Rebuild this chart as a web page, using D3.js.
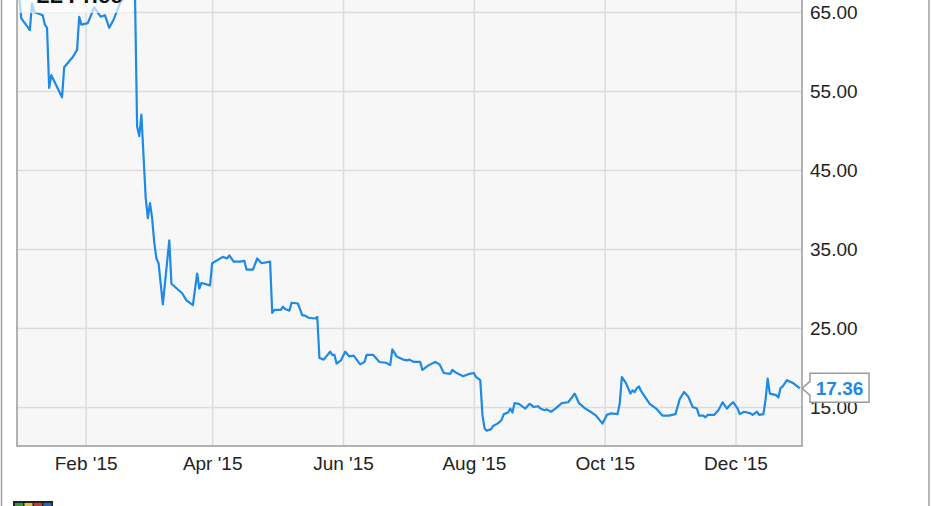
<!DOCTYPE html>
<html>
<head>
<meta charset="utf-8">
<script src="https://cdnjs.cloudflare.com/ajax/libs/d3/7.8.5/d3.min.js"></script>
<style>
 body { margin: 0; background: #fff; }
 svg  { display: block; font-family: "Liberation Sans", Arial, sans-serif; }
</style>
</head>
<body>
<script>

// LL daily close, 2015
var dates = [
 '2015-01-01','2015-01-02','2015-01-06','2015-01-07','2015-01-08','2015-01-12','2015-01-13','2015-01-14',
 '2015-01-15','2015-01-16','2015-01-21','2015-01-22','2015-01-26','2015-01-28','2015-01-29','2015-01-30',
 '2015-02-02','2015-02-05','2015-02-08','2015-02-10','2015-02-12','2015-02-14','2015-02-17','2015-02-19',
 '2015-02-22','2015-02-24','2015-02-25','2015-02-26','2015-02-27','2015-03-01','2015-03-02','2015-03-03',
 '2015-03-04','2015-03-05','2015-03-06','2015-03-07','2015-03-09','2015-03-12','2015-03-13','2015-03-18',
 '2015-03-20','2015-03-23','2015-03-25','2015-03-26','2015-03-27','2015-03-31','2015-04-01','2015-04-06',
 '2015-04-08','2015-04-09','2015-04-11','2015-04-14','2015-04-16','2015-04-17','2015-04-20','2015-04-22',
 '2015-04-24','2015-04-28','2015-04-29','2015-04-30','2015-05-03','2015-05-04','2015-05-05','2015-05-07',
 '2015-05-08','2015-05-11','2015-05-13','2015-05-14','2015-05-16','2015-05-19','2015-05-20','2015-05-21',
 '2015-05-23','2015-05-26','2015-05-27','2015-05-28','2015-05-29','2015-05-31','2015-06-02','2015-06-04',
 '2015-06-06','2015-06-09','2015-06-11','2015-06-12','2015-06-15','2015-06-18','2015-06-21','2015-06-23',
 '2015-06-24','2015-06-26','2015-06-29','2015-07-01','2015-07-02','2015-07-04','2015-07-07','2015-07-08',
 '2015-07-11','2015-07-14','2015-07-16','2015-07-18','2015-07-21','2015-07-22','2015-07-24','2015-07-27',
 '2015-07-30','2015-08-01','2015-08-02','2015-08-04','2015-08-05','2015-08-06','2015-08-07','2015-08-09',
 '2015-08-10','2015-08-12','2015-08-13','2015-08-14','2015-08-15','2015-08-17','2015-08-18','2015-08-19',
 '2015-08-20','2015-08-22','2015-08-25','2015-08-27','2015-08-29','2015-08-31','2015-09-01','2015-09-03',
 '2015-09-04','2015-09-06','2015-09-08','2015-09-11','2015-09-14','2015-09-16','2015-09-17','2015-09-19',
 '2015-09-22','2015-09-25','2015-09-27','2015-09-30','2015-10-02','2015-10-04','2015-10-07','2015-10-08',
 '2015-10-09','2015-10-11','2015-10-13','2015-10-14','2015-10-15','2015-10-16','2015-10-17','2015-10-18',
 '2015-10-22','2015-10-25','2015-10-28','2015-10-31','2015-11-03','2015-11-05','2015-11-07','2015-11-09',
 '2015-11-11','2015-11-13','2015-11-14','2015-11-16','2015-11-17','2015-11-18','2015-11-21','2015-11-23',
 '2015-11-25','2015-11-27','2015-11-29','2015-11-30','2015-12-02','2015-12-03','2015-12-05','2015-12-08',
 '2015-12-09','2015-12-11','2015-12-12','2015-12-14','2015-12-15','2015-12-16','2015-12-17','2015-12-20',
 '2015-12-21','2015-12-22','2015-12-23','2015-12-25','2015-12-28','2015-12-31'
]
var prices = [
 66.9, 64.2, 62.7, 66.1, 65.0, 64.6, 63.4, 63.0,
 55.4, 57.0, 54.2, 58.0, 59.3, 60.2, 64.4, 63.4,
 63.6, 65.6, 64.4, 64.6, 63.0, 64.0, 66.1, 66.8,
 67.4, 67.4, 50.5, 49.3, 52.0, 41.5, 38.9, 40.8,
 38.9, 35.8, 33.8, 33.2, 28.0, 36.1, 30.6, 29.4,
 28.5, 27.9, 31.9, 30.0, 30.7, 30.4, 33.2, 34.0,
 33.8, 34.2, 33.4, 33.4, 33.5, 32.4, 32.4, 33.8,
 33.2, 33.4, 26.9, 27.3, 27.3, 27.7, 27.4, 27.2,
 28.2, 28.1, 26.6, 26.6, 26.3, 26.2, 26.4, 21.2,
 21.0, 22.0, 21.6, 21.6, 20.5, 20.9, 22.0, 21.4,
 21.5, 20.4, 20.7, 21.6, 21.6, 20.7, 20.6, 20.3,
 22.3, 21.4, 21.0, 20.9, 21.0, 20.7, 20.7, 19.7,
 20.3, 20.7, 20.4, 19.3, 19.2, 19.7, 19.3, 18.9,
 19.2, 19.3, 18.8, 18.4, 14.0, 12.3, 12.0, 12.2,
 12.6, 12.9, 13.1, 13.4, 14.1, 14.3, 14.8, 14.3,
 15.5, 15.4, 14.8, 15.4, 15.0, 15.1, 14.8, 14.6,
 14.7, 14.4, 14.8, 15.5, 15.6, 16.3, 16.7, 15.5,
 14.8, 14.3, 13.9, 12.9, 14.0, 14.2, 14.1, 15.4,
 18.8, 18.0, 16.7, 17.1, 16.9, 17.4, 17.6, 17.0,
 15.4, 14.8, 13.9, 13.9, 14.1, 16.0, 16.9, 16.3,
 15.0, 14.8, 13.9, 13.9, 13.7, 14.0, 14.0, 14.6,
 15.6, 14.8, 15.4, 15.6, 14.8, 14.1, 14.4, 14.2,
 14.0, 14.4, 14.0, 14.1, 15.9, 18.6, 16.7, 16.5,
 16.2, 17.4, 17.6, 18.4, 18.0, 17.36
]

var yTicks      = [15, 25, 35, 45, 55, 65]
var xTicks      = ['2015-02-01', '2015-04-01', '2015-06-01', '2015-08-01', '2015-10-01', '2015-12-01']
var xTickLabels = ["Feb '15", "Apr '15", "Jun '15", "Aug '15", "Oct '15", "Dec '15"]
var seriesName  = 'LL Price'

var W = 931, H = 506
var plot = { left: 17, right: 802, top: 0, bottom: 446 }
var BLUE = '#1e8ae6'

var parse = d3.timeParse('%Y-%m-%d')
var data = dates.map(function(d, i) { return { date: parse(d), value: prices[i] } })

var x = d3.scaleTime()
  .domain([parse('2014-12-31'), parse('2016-01-01')])
  .range([plot.left, plot.right])
var y = d3.scaleLinear().domain([15, 65]).range([407, 12])

var svg = d3.select('body').append('svg')
  .attr('width', W)
  .attr('height', H)

// outer frame (left / right edges of the cropped widget)
svg.append('line').attr('x1', 1.5).attr('x2', 1.5).attr('y1', 0).attr('y2', H)
  .attr('stroke', '#a0a0a0').attr('stroke-width', 1.5)
svg.append('line').attr('x1', 929).attr('x2', 929).attr('y1', 0).attr('y2', H)
  .attr('stroke', '#a0a0a0').attr('stroke-width', 1.5)

// plot background
svg.append('rect')
  .attr('x', plot.left).attr('y', plot.top)
  .attr('width', plot.right - plot.left).attr('height', plot.bottom - plot.top)
  .attr('fill', '#f7f7f7')

// grid
var xGrid = svg.append('g')
  .attr('transform', 'translate(0,' + plot.bottom + ')')
  .call(d3.axisBottom(x).tickValues(xTicks.map(parse)).tickSize(-(plot.bottom - plot.top)).tickFormat(''))
var yGrid = svg.append('g')
  .attr('transform', 'translate(' + plot.left + ',0)')
  .call(d3.axisRight(y).tickValues(yTicks).tickSize(plot.right - plot.left).tickFormat(''))
;[xGrid, yGrid].forEach(function(g) {
  g.select('.domain').remove()
  g.selectAll('line').attr('stroke', '#dcdcdc').attr('stroke-width', 1.5)
})

// price line
svg.append('clipPath').attr('id', 'clip').append('rect')
  .attr('x', plot.left).attr('y', plot.top)
  .attr('width', plot.right - plot.left).attr('height', plot.bottom - plot.top)

var line = d3.line()
  .x(function(d) { return x(d.date) })
  .y(function(d) { return y(d.value) })

svg.append('path')
  .datum(data)
  .attr('clip-path', 'url(#clip)')
  .attr('fill', 'none')
  .attr('stroke', BLUE)
  .attr('stroke-width', 2.2)
  .attr('stroke-linejoin', 'round')
  .attr('d', line)

// legend box, mostly cut off at the top
svg.append('rect')
  .attr('x', plot.left).attr('y', -20)
  .attr('width', 115).attr('height', 33)
  .attr('fill', '#fff').attr('fill-opacity', 0.65)
svg.append('text')
  .attr('x', 36).attr('y', 3)
  .attr('font-size', 22).attr('font-weight', 'bold').attr('fill', '#111')
  .text(seriesName)

// plot border
svg.append('path')
  .attr('d', 'M' + plot.left + ',' + plot.top + 'V' + plot.bottom + 'H' + plot.right + 'V' + plot.top)
  .attr('fill', 'none').attr('stroke', '#9a9a9a').attr('stroke-width', 1.5)

// axes labels
var xAxis = svg.append('g')
  .attr('transform', 'translate(0,' + plot.bottom + ')')
  .call(d3.axisBottom(x).tickValues(xTicks.map(parse)).tickSize(0).tickPadding(11)
    .tickFormat(function(d, i) { return xTickLabels[i] }))
var yAxis = svg.append('g')
  .attr('transform', 'translate(' + plot.right + ',0)')
  .call(d3.axisRight(y).tickValues(yTicks).tickSize(0).tickPadding(8)
    .tickFormat(d3.format('.2f')))
;[xAxis, yAxis].forEach(function(g) {
  g.select('.domain').remove()
  g.selectAll('text').attr('font-size', 19).attr('fill', '#222')
    .attr('font-family', '"Liberation Sans", Arial, sans-serif')
})

// last value flag
var last = data[data.length - 1]
var ly = y(last.value)
var bx0 = 810, bx1 = 869
svg.append('path')
  .attr('d', 'M' + plot.right + ',' + ly + 'L' + bx0 + ',' + (ly - 7) + 'V' + (ly - 15) + 'H' + bx1 +
             'V' + (ly + 14) + 'H' + bx0 + 'V' + (ly + 7) + 'Z')
  .attr('fill', '#fff').attr('stroke', '#9a9a9a').attr('stroke-width', 1.5)
svg.append('text')
  .attr('x', (bx0 + bx1) / 2).attr('y', ly).attr('dy', '0.35em')
  .attr('text-anchor', 'middle')
  .attr('font-size', 19).attr('font-weight', 'bold').attr('fill', BLUE)
  .text(d3.format('.2f')(last.value))

// small logo at bottom left
var logo = svg.append('g').attr('transform', 'translate(13,501)')
var logoColors = ['#2e9a3a', '#e8c13a', '#d8332a', '#2a63c8']
logo.append('rect').attr('width', 40).attr('height', 8).attr('fill', '#222')
logo.selectAll('.piece').data(logoColors).enter().append('rect')
  .attr('class', 'piece')
  .attr('x', function(d, i) { return 2 + i * 9.5 })
  .attr('y', 2).attr('width', 8).attr('height', 6)
  .attr('fill', function(d) { return d })

</script>
</body>
</html>
